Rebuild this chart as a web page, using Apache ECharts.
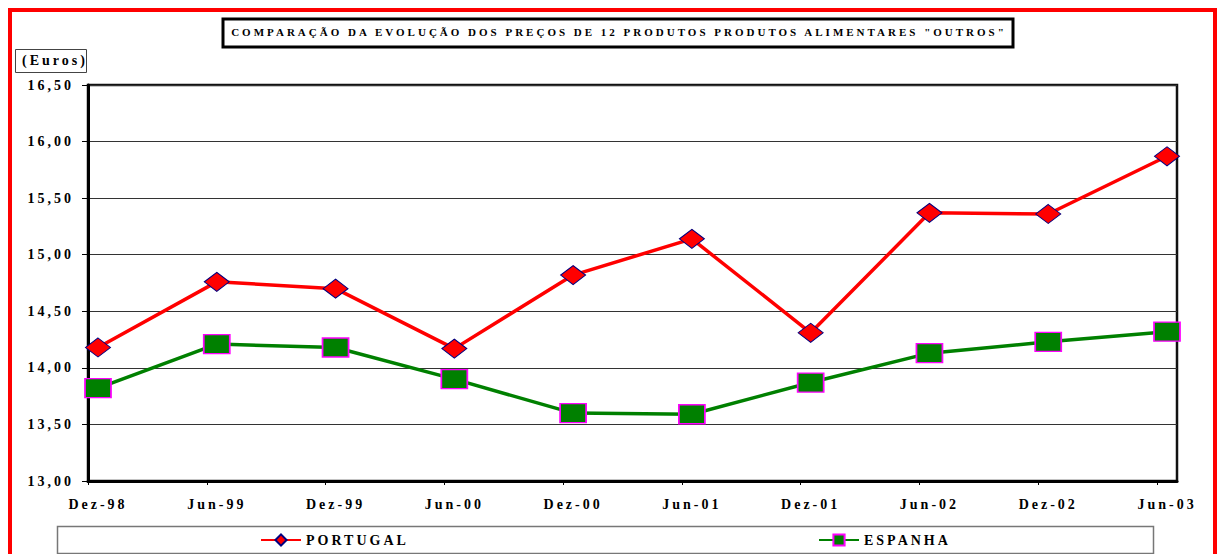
<!DOCTYPE html>
<html>
<head>
<meta charset="utf-8">
<script src="https://cdn.jsdelivr.net/npm/echarts@6/dist/echarts.min.js"></script>
<style>
  html, body { margin: 0; padding: 0; background: #fff; }
  #chart { width: 1218px; height: 554px; }
  /* letras espaçadas como no original */
  #chart svg text { letter-spacing: 3px; }
</style>
</head>
<body>
<div id="chart"></div>
<script>
// dados do gráfico
var meses = ["Dez-98", "Jun-99", "Dez-99", "Jun-00", "Dez-00", "Jun-01", "Dez-01", "Jun-02", "Dez-02", "Jun-03"];
var portugal = [14.18, 14.76, 14.70, 14.17, 14.82, 15.14, 14.31, 15.37, 15.36, 15.87];
var espanha = [13.82, 14.21, 14.18, 13.90, 13.60, 13.59, 13.87, 14.13, 14.23, 14.32];
var yTicks = [13.0, 13.5, 14.0, 14.5, 15.0, 15.5, 16.0, 16.5];

var fonte = "'Liberation Serif', 'Times New Roman', serif";
var folga = 10 / 118.8; // espaço entre o eixo e o primeiro ponto

var myChart = echarts.init(document.getElementById("chart"), null, { renderer: "svg" });

myChart.setOption({
  animation: false,
  backgroundColor: "#fff",
  title: {
    text: 'COMPARAÇÃO DA EVOLUÇÃO DOS PREÇOS DE 12 PRODUTOS PRODUTOS ALIMENTARES "OUTROS"',
    left: 619,
    top: 26,
    textAlign: "center",
    padding: 0,
    textStyle: {
      fontFamily: fonte,
      fontSize: 11,
      fontWeight: "bold",
      color: "#000"
    }
  },
  graphic: [
    {
      type: "rect",
      shape: { x: 10, y: 10, width: 1205, height: 570 },
      style: { fill: "none", stroke: "#ff0000", lineWidth: 4 },
      silent: true
    },
    {
      type: "rect",
      shape: { x: 223, y: 19, width: 790, height: 28 },
      style: { fill: "none", stroke: "#000", lineWidth: 3 },
      silent: true
    },
    {
      type: "rect",
      shape: { x: 15.5, y: 49.5, width: 71, height: 23 },
      style: { fill: "#fff", stroke: "#444", lineWidth: 1 },
      silent: true
    },
    {
      type: "text",
      left: 22,
      top: 53,
      style: {
        text: "(Euros)",
        fontFamily: fonte,
        fontSize: 14,
        fontWeight: "bold",
        fill: "#000"
      },
      silent: true
    },
    {
      type: "rect",
      shape: { x: 57.5, y: 526.5, width: 1096, height: 27 },
      style: { fill: "none", stroke: "#777", lineWidth: 1.5 },
      silent: true
    }
  ],
  legend: [
    {
      data: ["PORTUGAL"],
      left: 260,
      top: 533,
      padding: 0,
      itemWidth: 40,
      itemHeight: 14,
      textStyle: { fontFamily: fonte, fontSize: 14, fontWeight: "bold", color: "#000" }
    },
    {
      data: ["ESPANHA"],
      left: 818,
      top: 533,
      padding: 0,
      itemWidth: 40,
      itemHeight: 14,
      textStyle: { fontFamily: fonte, fontSize: 14, fontWeight: "bold", color: "#000" }
    }
  ],
  grid: {
    left: 88,
    top: 85,
    width: 1089,
    height: 396,
    show: true,
    borderColor: "#111",
    borderWidth: 2.5,
    backgroundColor: "#fff"
  },
  xAxis: {
    type: "value",
    min: -folga,
    max: meses.length - 1 + folga,
    axisLine: { show: true, onZero: false, lineStyle: { color: "#000", width: 3 } },
    axisTick: {
      show: true,
      length: 4,
      customValues: meses.map(function (m, i) { return i - folga; }),
      lineStyle: { color: "#000", width: 1 }
    },
    axisLabel: {
      customValues: meses.map(function (m, i) { return i; }),
      formatter: function (v) { return meses[Math.round(v)]; },
      margin: 16,
      fontFamily: fonte,
      fontSize: 14,
      fontWeight: "bold",
      color: "#000"
    },
    splitLine: { show: false }
  },
  yAxis: {
    type: "value",
    min: yTicks[0],
    max: yTicks[yTicks.length - 1],
    interval: 0.5,
    axisLine: { show: true, onZero: false, lineStyle: { color: "#000", width: 3 } },
    axisTick: { show: true, length: 6, lineStyle: { color: "#000", width: 1 } },
    axisLabel: {
      margin: 14,
      formatter: function (v) { return v.toFixed(2).replace(".", ","); },
      fontFamily: fonte,
      fontSize: 14,
      fontWeight: "bold",
      color: "#000"
    },
    splitLine: { show: true, lineStyle: { color: "#333", width: 1 } }
  },
  series: [
    {
      name: "PORTUGAL",
      type: "line",
      clip: false,
      data: meses.map(function (m, i) { return [i, portugal[i]]; }),
      symbol: "diamond",
      symbolSize: [25, 19],
      lineStyle: { color: "#ff0000", width: 3.5 },
      itemStyle: { color: "#ff0000", borderColor: "#000080", borderWidth: 1 },
      z: 3
    },
    {
      name: "ESPANHA",
      type: "line",
      clip: false,
      data: meses.map(function (m, i) { return [i, espanha[i]]; }),
      symbol: "rect",
      symbolSize: [26, 19],
      lineStyle: { color: "#008000", width: 3.5 },
      itemStyle: { color: "#008000", borderColor: "#ff00ff", borderWidth: 1.5 },
      z: 3
    }
  ]
});
</script>
</body>
</html>
